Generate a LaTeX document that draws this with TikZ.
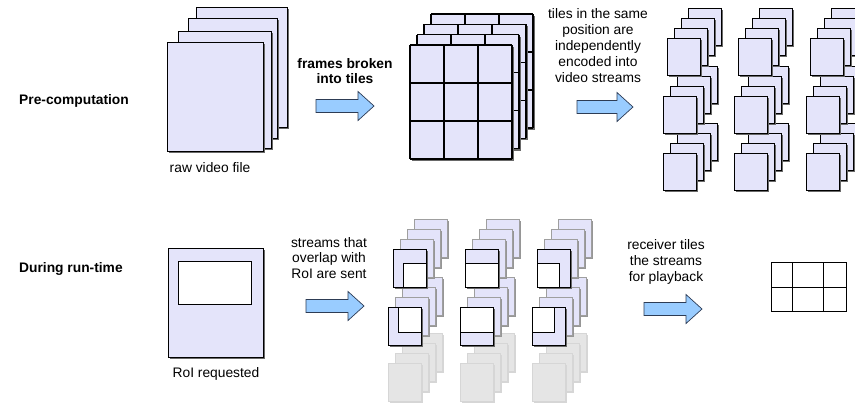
\documentclass[tikz,border=0pt]{standalone}
\usepackage{fontspec}
\setmainfont{Liberation Sans}
\definecolor{lav}{RGB}{228,228,250}
\definecolor{shd}{RGB}{105,105,105}
\definecolor{lshd}{RGB}{150,150,150}
\definecolor{arrowfill}{RGB}{153,204,255}
\definecolor{arrowline}{RGB}{45,60,85}
\definecolor{fadegray}{RGB}{229,229,229}
\definecolor{fadeshd}{RGB}{214,214,214}
\tikzset{
  frm/.style={fill=lav, draw=black, line width=0.8pt},
  gfrm/.style={fill=lav, draw=gray!75, line width=0.8pt},
  ffrm/.style={fill=fadegray, draw=fadeshd, line width=0.4pt},
  roi/.style={fill=white, draw=black, line width=0.8pt},
  gridln/.style={draw=black, line width=1.5pt},
  arrowst/.style={fill=arrowfill, draw=arrowline, line width=0.7pt, line join=miter},
  lbl/.style={inner sep=0pt, align=center, font=\fontsize{13.8}{15.8}\selectfont},
  outln/.style={draw=black, line width=0.8pt},
}
% frame with drop shadow: x y w h
\newcommand\vframe[4]{%
  \fill[shd] (#1+1.8,#2+1.8) rectangle ++(#3,#4);
  \draw[frm] (#1,#2) rectangle ++(#3,#4);}
\newcommand\vgframe[4]{%
  \fill[lshd] (#1+1.8,#2+1.8) rectangle ++(#3,#4);
  \draw[gfrm] (#1,#2) rectangle ++(#3,#4);}
\newcommand\vfade[4]{%
  \fill[fadeshd] (#1+1.8,#2+1.8) rectangle ++(#3,#4);
  \draw[ffrm] (#1,#2) rectangle ++(#3,#4);}
% tile grid 3x3 at x y
\newcommand\tgrid[2]{%
  \fill[shd] (#1+2,#2+2) rectangle ++(102,114);
  \fill[lav] (#1,#2) rectangle ++(102,114);
  \foreach \gi in {0,1,2,3} {\draw[gridln] (#1+34*\gi,#2) -- ++(0,114);}
  \foreach \gj in {0,1,2,3} {\draw[gridln] (#1,#2+38*\gj) -- ++(102,0);}}
% block arrow: x1 x2 yc
\newcommand\barrow[3]{%
  \draw[arrowst] (#1,#3-6.5) -- (#2-16,#3-6.5) -- (#2-16,#3-14.5) -- (#2,#3)
    -- (#2-16,#3+14.5) -- (#2-16,#3+6.5) -- (#1,#3+6.5) -- cycle;}
\begin{document}
\begin{tikzpicture}[x=1pt,y=-1pt]
\useasboundingbox (0,0) rectangle (855,407);
\clip (0,0) rectangle (855,407);
\fill[white] (0,0) rectangle (855,407);

% ---------- row labels
\node[lbl, anchor=west, font=\fontsize{13.8}{15.8}\selectfont\bfseries] (pre) at (19,101) {Pre-computation};
\node[lbl, anchor=west, font=\fontsize{13.8}{15.8}\selectfont\bfseries] (run) at (19,269) {During run-time};

% ---------- raw video file
\fill[shd] (198,9) rectangle (289,129);
\draw[frm] (196,7) rectangle (287,127);
\fill[shd] (190,20) rectangle (279,140);
\draw[frm] (188,18) rectangle (277,138);
\fill[shd] (180,33) rectangle (273,150);
\draw[frm] (178,31) rectangle (271,148);
\vframe{167}{42}{96}{109}
\node[lbl] (rawlbl) at (210,168) {raw video file};

% ---------- arrow 1
\node[lbl, font=\fontsize{13.8}{15.8}\selectfont\bfseries] (t1) at (345,71) {frames broken\\into tiles};
\barrow{316}{374}{106}

% ---------- tile grids
\foreach \k in {3,2,1,0} {\tgrid{410+7*\k}{45-10.3*\k}}

% ---------- arrow 2
\node[lbl] (t2) at (598,45.5) {tiles in the same\\position are\\independently\\encoded into\\video streams};
\barrow{577}{633}{107}

% ---------- encoded streams
\foreach \c in {0,1,2} {
  \foreach \sx/\sy in {663/153, 663/96, 667/38} {
    \foreach \k in {3,2,1,0} {
      \vframe{\sx+71.5*\c+7*\k}{\sy-10*\k}{33}{37}
    }
  }
}

% ---------- RoI requested
\vframe{168}{248}{95}{109}
\draw[roi] (178,261) rectangle (251,304);
\node[lbl] (roilbl) at (216,374) {RoI requested};

% ---------- arrow 3
\node[lbl] (t3) at (329,258) {streams that\\overlap with\\RoI are sent};
\barrow{306}{364}{306}

% ---------- sent streams
\foreach \c/\wa/\wb in {0/10/33, 1/0/33, 2/0/22} {
  % faded bottom stack
  \foreach \k in {3,2,1,0} {\vfade{388+72*\c+7*\k}{363-10*\k}{33}{38}}
  % middle stack
  \foreach \k in {3,2,1} {\vgframe{388+72*\c+7*\k}{307-10*\k}{33}{38}}
  \vframe{388+72*\c}{307}{33}{38}
  \draw[roi] (388+72*\c+\wa,307) rectangle (388+72*\c+\wb,332);
  \draw[outln] (388+72*\c,307) rectangle ++(33,38);
  % top stack
  \foreach \k in {3,2,1} {\vgframe{393+72*\c+7*\k}{249-10*\k}{33}{38}}
  \vframe{393+72*\c}{249}{33}{38}
  \draw[roi] (393+72*\c+\wa,263) rectangle (393+72*\c+\wb,287);
  \draw[outln] (393+72*\c,249) rectangle ++(33,38);
}

% ---------- arrow 4
\node[lbl] (t4) at (666,262) {receiver tiles\\the streams\\for playback};
\barrow{644}{702}{309}

% ---------- tiled output
\draw[outln] (771,262) rectangle (846,311);
\draw[outln] (792,262) -- (792,311);
\draw[outln] (823,262) -- (823,311);
\draw[outln] (771,287) -- (846,287);
\end{tikzpicture}
\end{document}
